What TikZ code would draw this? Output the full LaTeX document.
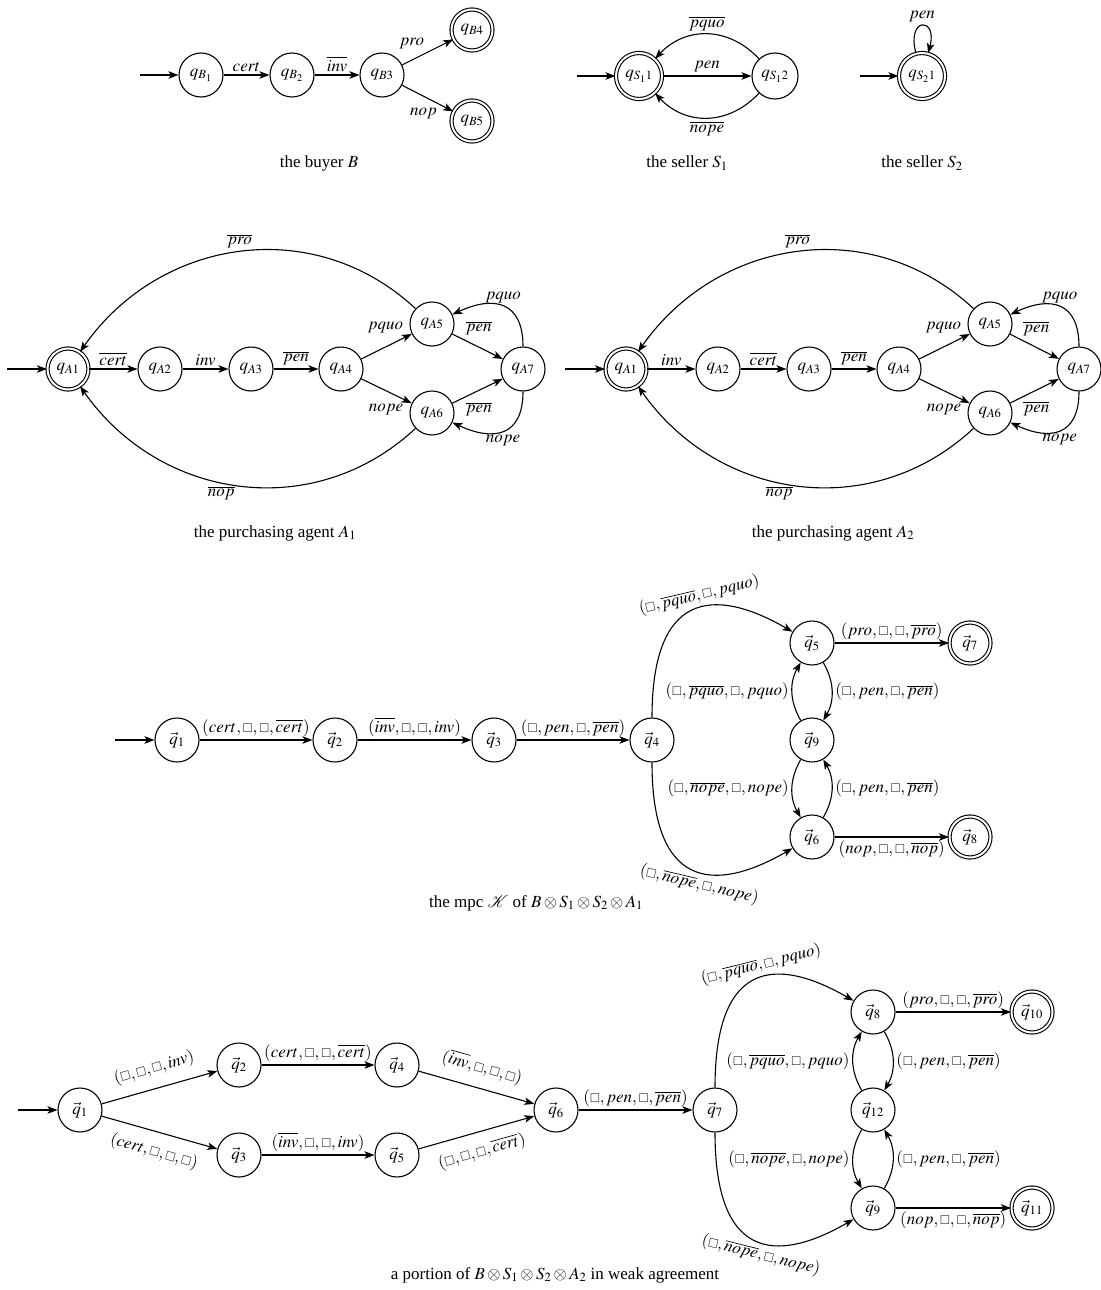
\documentclass[tikz,border=0pt]{standalone}
\usepackage{mathptmx}
\usepackage{amssymb}
\usepackage{fontspec}
\setmainfont{Liberation Serif}
\usetikzlibrary{arrows.meta}
\newcommand{\sqb}{{\scriptstyle\square}}
\begin{document}
\begin{tikzpicture}[x=1pt,y=1pt,
  font=\fontsize{17}{20}\selectfont,
  line width=1.1pt,
  >={Stealth[length=10pt,width=7.5pt,inset=2.5pt]},
  state/.style={circle,draw,line width=1.1pt,minimum size=44pt,inner sep=1pt},
  acc/.style={state,double,double distance=2pt,minimum size=41pt},
  lab/.style={inner sep=3pt}]
\useasboundingbox (0,0) rectangle (1100,-1290);

% ---------------- buyer B
\node[state] (b1) at (201,-75) {$q_{B_1}$};
\node[state] (b2) at (292,-75) {$q_{B_2}$};
\node[state] (b3) at (382,-75) {$q_{B3}$};
\node[acc] (b4) at (472,-30) {$q_{B4}$};
\node[acc] (b5) at (472,-121) {$q_{B5}$};
\coordinate (b0) at (140,-75);
\draw[->] (b0) -- (b1);
\draw[->] (b1) -- node[lab,above]{$cert$} (b2);
\draw[->] (b2) -- node[lab,above]{$\overline{inv}$} (b3);
\draw[->] (b3) -- node[lab,pos=0.5,above left]{$pro$} (b4);
\draw[->] (b3) -- node[lab,pos=0.75,below left]{$nop$} (b5);
\node (capb) at (319,-163) {the buyer $B$};

% ---------------- seller S1
\node[acc,minimum size=46pt] (s11) at (639,-76) {$q_{S_1 1}$};
\node[state,minimum size=46pt] (s12) at (775,-76) {$q_{S_1 2}$};
\coordinate (s10) at (577,-76);
\draw[->] (s10) -- (s11);
\draw[->] (s11) -- node[lab,above]{$pen$} (s12);
\draw[->] (s12) to[out=133,in=47,looseness=1.1] node[lab,above]{$\overline{pquo}$} (s11);
\draw[->] (s12) to[out=-133,in=-47,looseness=1.1] node[lab,below]{$\overline{nope}$} (s11);
\node (caps1) at (687,-163) {the seller $S_1$};

% ---------------- seller S2
\node[acc,minimum size=46pt] (s21) at (922,-76) {$q_{S_2 1}$};
\coordinate (s20) at (860,-76);
\draw[->] (s20) -- (s21);
\draw[->] (s21) to[loop above] node[lab,above]{$pen$} ();
\node (caps2) at (922,-163) {the seller $S_2$};

% ---------------- agent A1
\node[acc] (a1) at (68,-369) {$q_{A1}$};
\node[state] (a2) at (160,-369) {$q_{A2}$};
\node[state] (a3) at (251,-369) {$q_{A3}$};
\node[state] (a4) at (341,-369) {$q_{A4}$};
\node[state] (a5) at (432,-324) {$q_{A5}$};
\node[state] (a6) at (432,-413) {$q_{A6}$};
\node[state] (a7) at (523,-369) {$q_{A7}$};
\coordinate (a0) at (7,-369);
\draw[->] (a0) -- (a1);
\draw[->] (a1) -- node[lab,above]{$\overline{cert}$} (a2);
\draw[->] (a2) -- node[lab,above]{$inv$} (a3);
\draw[->] (a3) -- node[lab,above]{$\overline{pen}$} (a4);
\draw[->] (a4) -- node[lab,pos=0.9,above left]{$pquo$} (a5);
\draw[->] (a4) -- node[lab,pos=0.9,below left]{$nope$} (a6);
\draw[->] (a5) -- node[lab,pos=0.2,above right]{$\overline{pen}$} (a7);
\draw[->] (a6) -- node[lab,pos=0.2,below right]{$\overline{pen}$} (a7);
\draw[->] (a7) to[out=90,in=25,looseness=1.5] node[lab,above]{$pquo$} (a5);
\draw[->] (a7) to[out=-90,in=-25,looseness=1.5] node[lab,below]{$nope$} (a6);
\draw[->] (a5) to[out=137,in=55,looseness=1.05] node[lab,pos=0.5,above]{$\overline{pro}$} (a1);
\draw[->] (a6) to[out=-137,in=-55,looseness=1.05] node[lab,pos=0.55,below]{$\overline{nop}$} (a1);
\node (capa1) at (275,-533) {the purchasing agent $A_1$};

% ---------------- agent A2
\node[acc] (c1) at (626,-369) {$q_{A1}$};
\node[state] (c2) at (718,-369) {$q_{A2}$};
\node[state] (c3) at (809,-369) {$q_{A3}$};
\node[state] (c4) at (899,-369) {$q_{A4}$};
\node[state] (c5) at (990,-324) {$q_{A5}$};
\node[state] (c6) at (990,-413) {$q_{A6}$};
\node[state] (c7) at (1079,-369) {$q_{A7}$};
\coordinate (c0) at (565,-369);
\draw[->] (c0) -- (c1);
\draw[->] (c1) -- node[lab,above]{$inv$} (c2);
\draw[->] (c2) -- node[lab,above]{$\overline{cert}$} (c3);
\draw[->] (c3) -- node[lab,above]{$\overline{pen}$} (c4);
\draw[->] (c4) -- node[lab,pos=0.9,above left]{$pquo$} (c5);
\draw[->] (c4) -- node[lab,pos=0.9,below left]{$nope$} (c6);
\draw[->] (c5) -- node[lab,pos=0.2,above right]{$\overline{pen}$} (c7);
\draw[->] (c6) -- node[lab,pos=0.2,below right]{$\overline{pen}$} (c7);
\draw[->] (c7) to[out=90,in=25,looseness=1.5] node[lab,above]{$pquo$} (c5);
\draw[->] (c7) to[out=-90,in=-25,looseness=1.5] node[lab,below]{$nope$} (c6);
\draw[->] (c5) to[out=137,in=55,looseness=1.05] node[lab,pos=0.5,above]{$\overline{pro}$} (c1);
\draw[->] (c6) to[out=-137,in=-55,looseness=1.05] node[lab,pos=0.55,below]{$\overline{nop}$} (c1);
\node (capa2) at (833,-533) {the purchasing agent $A_2$};

% ---------------- mpc K
\node[state] (m1) at (177,-740) {$\vec{q}_1$};
\node[state] (m2) at (335,-740) {$\vec{q}_2$};
\node[state] (m3) at (494,-740) {$\vec{q}_3$};
\node[state] (m4) at (652,-740) {$\vec{q}_4$};
\node[state] (m5) at (812,-643) {$\vec{q}_5$};
\node[state] (m9) at (812,-740) {$\vec{q}_9$};
\node[state] (m6) at (812,-837) {$\vec{q}_6$};
\node[acc] (m7) at (970,-643) {$\vec{q}_7$};
\node[acc] (m8) at (970,-837) {$\vec{q}_8$};
\coordinate (m0) at (115,-740);
\draw[->] (m0) -- (m1);
\draw[->] (m1) -- node[lab,above]{$(cert,\sqb,\sqb,\overline{cert})$} (m2);
\draw[->] (m2) -- node[lab,above]{$(\overline{inv},\sqb,\sqb,inv)$} (m3);
\draw[->] (m3) -- node[lab,above]{$(\sqb,pen,\sqb,\overline{pen})$} (m4);
\draw[->] (m4) .. controls +(90:160) and +(150:100) .. node[lab,pos=0.53,sloped,above]{$(\sqb,\overline{pquo},\sqb,pquo)$} (m5);
\draw[->] (m4) .. controls +(-90:160) and +(210:100) .. node[lab,pos=0.53,sloped,below]{$(\sqb,\overline{nope},\sqb,nope)$} (m6);
\draw[->] (m5) -- node[lab,above]{$(pro,\sqb,\sqb,\overline{pro})$} (m7);
\draw[->] (m6) -- node[lab,below]{$(nop,\sqb,\sqb,\overline{nop})$} (m8);
\draw[->] (m9) to[bend left=30] node[lab,left]{$(\sqb,\overline{pquo},\sqb,pquo)$} (m5);
\draw[->] (m5) to[bend left=30] node[lab,right]{$(\sqb,pen,\sqb,\overline{pen})$} (m9);
\draw[->] (m9) to[bend right=30] node[lab,left]{$(\sqb,\overline{nope},\sqb,nope)$} (m6);
\draw[->] (m6) to[bend right=30] node[lab,right]{$(\sqb,pen,\sqb,\overline{pen})$} (m9);
\node (capm) at (536,-903) {the mpc $\mathcal{K}$ of $B\otimes S_1\otimes S_2\otimes A_1$};

% ---------------- weak agreement portion
\node[state] (p1) at (80,-1110) {$\vec{q}_1$};
\node[state] (p2) at (239,-1065) {$\vec{q}_2$};
\node[state] (p3) at (239,-1155) {$\vec{q}_3$};
\node[state] (p4) at (397,-1065) {$\vec{q}_4$};
\node[state] (p5) at (397,-1155) {$\vec{q}_5$};
\node[state] (p6) at (556,-1110) {$\vec{q}_6$};
\node[state] (p7) at (715,-1110) {$\vec{q}_7$};
\node[state] (p8) at (873,-1012) {$\vec{q}_8$};
\node[state] (p12) at (873,-1110) {$\vec{q}_{12}$};
\node[state] (p9) at (873,-1208) {$\vec{q}_9$};
\node[acc] (p10) at (1032,-1012) {$\vec{q}_{10}$};
\node[acc] (p11) at (1032,-1208) {$\vec{q}_{11}$};
\coordinate (p0) at (18,-1110);
\draw[->] (p0) -- (p1);
\draw[->] (p1) -- node[lab,sloped,above=8pt]{$(\sqb,\sqb,\sqb,inv)$} (p2);
\draw[->] (p1) -- node[lab,sloped,below=8pt]{$(cert,\sqb,\sqb,\sqb)$} (p3);
\draw[->] (p2) -- node[lab,above]{$(cert,\sqb,\sqb,\overline{cert})$} (p4);
\draw[->] (p3) -- node[lab,above]{$(\overline{inv},\sqb,\sqb,inv)$} (p5);
\draw[->] (p4) -- node[lab,sloped,above=8pt]{$(\overline{inv},\sqb,\sqb,\sqb)$} (p6);
\draw[->] (p5) -- node[lab,sloped,below=8pt]{$(\sqb,\sqb,\sqb,\overline{cert})$} (p6);
\draw[->] (p6) -- node[lab,above]{$(\sqb,pen,\sqb,\overline{pen})$} (p7);
\draw[->] (p7) .. controls +(90:160) and +(150:100) .. node[lab,pos=0.53,sloped,above]{$(\sqb,\overline{pquo},\sqb,pquo)$} (p8);
\draw[->] (p7) .. controls +(-90:160) and +(210:100) .. node[lab,pos=0.53,sloped,below]{$(\sqb,\overline{nope},\sqb,nope)$} (p9);
\draw[->] (p8) -- node[lab,above]{$(pro,\sqb,\sqb,\overline{pro})$} (p10);
\draw[->] (p9) -- node[lab,below]{$(nop,\sqb,\sqb,\overline{nop})$} (p11);
\draw[->] (p12) to[bend left=30] node[lab,left]{$(\sqb,\overline{pquo},\sqb,pquo)$} (p8);
\draw[->] (p8) to[bend left=30] node[lab,right]{$(\sqb,pen,\sqb,\overline{pen})$} (p12);
\draw[->] (p12) to[bend right=30] node[lab,left]{$(\sqb,\overline{nope},\sqb,nope)$} (p9);
\draw[->] (p9) to[bend right=30] node[lab,right]{$(\sqb,pen,\sqb,\overline{pen})$} (p12);
\node (capp) at (555,-1275) {a portion of $B\otimes S_1\otimes S_2\otimes A_2$ in weak agreement};
\end{tikzpicture}
\end{document}
